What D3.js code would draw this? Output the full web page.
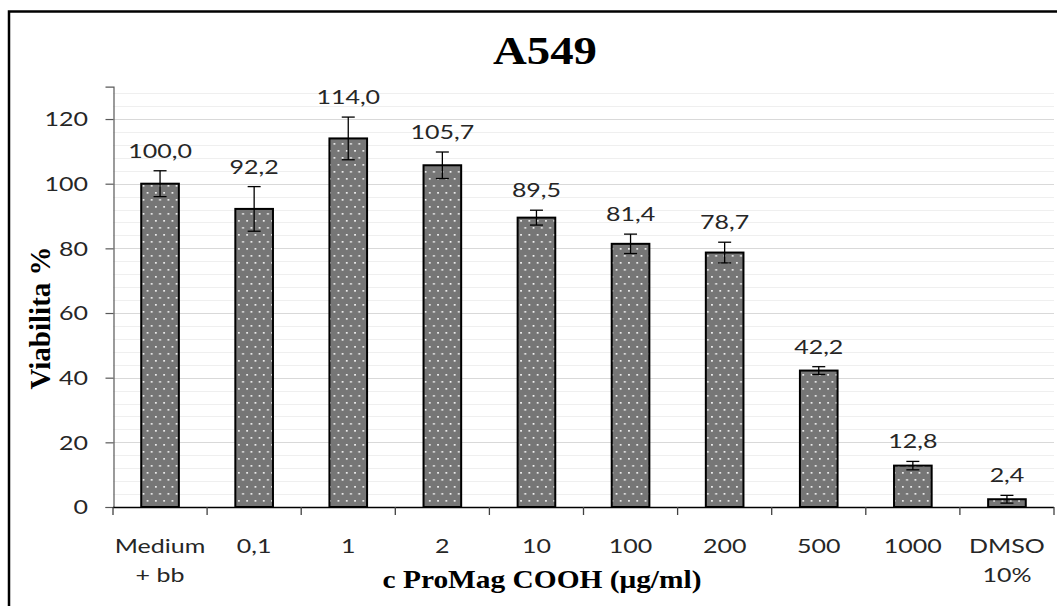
<!DOCTYPE html>
<meta charset="UTF-8">
<style>
body { margin: 0; background: #fff; }
.grid-major { stroke: #d9d9d9; stroke-width: 1px; }
.grid-minor { stroke: #efefef; stroke-width: 1px; }
.bar { fill: url(#dots); stroke: #000; stroke-width: 2px; }
.err { stroke: #000; stroke-width: 1.3px; fill: none; }
.sans { font-family: Lato, "Open Sans", sans-serif; fill: #262626; }
.serif { font-family: "Liberation Serif", "Times New Roman", serif; font-weight: bold; fill: #000; }
</style>
<svg width="1057" height="606"></svg>
<script src="https://d3js.org/d3.v7.min.js"></script>
<script>
// chart values
var categories = ["Medium\n+ bb", "0,1", "1", "2", "10", "100", "200", "500", "1000", "DMSO\n10%"]
var viability = [100.0, 92.2, 114.0, 105.7, 89.5, 81.4, 78.7, 42.2, 12.8, 2.4]
var errors = [4.0, 6.9, 6.6, 4.1, 2.3, 3.0, 3.2, 1.2, 1.3, 1.2]
var yTicks = [0, 20, 40, 60, 80, 100, 120]
var minorStep = 4
var yMax = 130

var title = "A549"
var xTitle = "c ProMag COOH (\u03bcg/ml)"
var yTitle = "Viabilita %"

// the source picture is stretched sideways, text follows it
var sx = 1.25

var svg = d3.select("svg")

var defs = svg.append("defs")
var pat = defs.append("pattern")
    .attr("id", "dots")
    .attr("patternUnits", "userSpaceOnUse")
    .attr("width", 8.3)
    .attr("height", 14)
pat.append("rect").attr("width", 8.3).attr("height", 14).attr("fill", "#767676")
pat.append("rect").attr("x", 1.5).attr("y", 3).attr("width", 1.7).attr("height", 1.7).attr("fill", "#f4f4f4")
pat.append("rect").attr("x", 5.6).attr("y", 10).attr("width", 1.7).attr("height", 1.7).attr("fill", "#f4f4f4")

var data = categories.map((c, i) => ({cat: c, v: viability[i], e: errors[i]}))

var x = d3.scaleBand()
    .domain(categories)
    .range([113, 1054])
    .paddingInner(0.6)
    .paddingOuter(0.3)

var y = d3.scaleLinear()
    .domain([0, yMax])
    .range([507, 86.7])

function stretch(sel, px, py) {
    return sel.attr("transform", "translate(" + px + "," + py + ") scale(" + sx + ",1)")
}

// outer border
svg.append("rect")
    .attr("x", 9).attr("y", 11.5)
    .attr("width", 1200).attr("height", 700)
    .attr("fill", "none").attr("stroke", "#000").attr("stroke-width", 2.5)

// gridlines
var minors = d3.range(minorStep, yMax, minorStep).filter(v => v % 20 != 0)
svg.append("g").selectAll("line")
    .data(minors).enter().append("line")
    .attr("class", "grid-minor")
    .attr("x1", 113).attr("x2", 1054)
    .attr("y1", d => Math.round(y(d)) + 0.5).attr("y2", d => Math.round(y(d)) + 0.5)
svg.append("g").selectAll("line")
    .data(yTicks.filter(d => d > 0)).enter().append("line")
    .attr("class", "grid-major")
    .attr("x1", 113).attr("x2", 1054)
    .attr("y1", d => Math.round(y(d)) + 0.5).attr("y2", d => Math.round(y(d)) + 0.5)

// y axis
var yAxis = svg.append("g")
    .attr("transform", "translate(113.5,0)")
    .call(d3.axisLeft(y).tickValues(yTicks).tickSize(8).tickFormat(""))
yAxis.select(".domain").attr("stroke", "#595959").attr("stroke-width", 1.2)
yAxis.selectAll(".tick line").attr("stroke", "#595959").attr("stroke-width", 1.2)

svg.append("g").selectAll("text")
    .data(yTicks).enter().append("text")
    .attr("class", "sans")
    .style("font-size", "20px")
    .attr("text-anchor", "end")
    .attr("dy", "0.36em")
    .each(function(d) { stretch(d3.select(this), 88, y(d)) })
    .text(d => d)

// bars
svg.append("g").selectAll("rect")
    .data(data).enter().append("rect")
    .attr("class", "bar")
    .attr("x", d => x(d.cat))
    .attr("width", x.bandwidth())
    .attr("y", d => y(d.v))
    .attr("height", d => y(0) - y(d.v))

// x axis
svg.append("line")
    .attr("x1", 113).attr("x2", 1054)
    .attr("y1", 507.5).attr("y2", 507.5)
    .attr("stroke", "#000").attr("stroke-width", 1.5)
var bounds = categories.map(c => x(c) - x.step() * x.paddingOuter()).concat([1054])
svg.append("g").selectAll("line")
    .data(bounds).enter().append("line")
    .attr("x1", d => d).attr("x2", d => d)
    .attr("y1", 507).attr("y2", 515)
    .attr("stroke", "#404040").attr("stroke-width", 1.3)

// error bars
var eb = svg.append("g").selectAll("g")
    .data(data).enter().append("g")
    .attr("class", "err")
eb.append("line")
    .attr("x1", d => x(d.cat) + x.bandwidth() / 2).attr("x2", d => x(d.cat) + x.bandwidth() / 2)
    .attr("y1", d => y(d.v + d.e)).attr("y2", d => y(d.v - d.e))
eb.append("line")
    .attr("x1", d => x(d.cat) + x.bandwidth() / 2 - 6.5).attr("x2", d => x(d.cat) + x.bandwidth() / 2 + 6.5)
    .attr("y1", d => y(d.v + d.e)).attr("y2", d => y(d.v + d.e))
eb.append("line")
    .attr("x1", d => x(d.cat) + x.bandwidth() / 2 - 6.5).attr("x2", d => x(d.cat) + x.bandwidth() / 2 + 6.5)
    .attr("y1", d => y(d.v - d.e)).attr("y2", d => y(d.v - d.e))

// value labels
var fmt = d3.format(".1f")
svg.append("g").selectAll("text")
    .data(data).enter().append("text")
    .attr("class", "sans")
    .style("font-size", "20px")
    .attr("text-anchor", "middle")
    .each(function(d) { stretch(d3.select(this), x(d.cat) + x.bandwidth() / 2, y(d.v + d.e) - 13) })
    .text(d => fmt(d.v).replace(".", ","))

// category labels
var cl = svg.append("g").selectAll("text")
    .data(categories).enter().append("text")
    .attr("class", "sans")
    .style("font-size", "20px")
    .attr("text-anchor", "middle")
    .each(function(d) { stretch(d3.select(this), x(d) + x.bandwidth() / 2, 553) })
cl.selectAll("tspan")
    .data(d => d.split("\n")).enter().append("tspan")
    .attr("x", 0)
    .attr("y", (d, i) => i * 29)
    .text(d => d)

// titles
svg.append("text")
    .attr("class", "serif")
    .style("font-size", "39px")
    .attr("text-anchor", "middle")
    .attr("transform", "translate(545,64) scale(1.2,1)")
    .text(title)

svg.append("text")
    .attr("class", "serif")
    .style("font-size", "24.5px")
    .attr("text-anchor", "middle")
    .attr("transform", "translate(542,588) scale(1.2,1)")
    .text(xTitle)

svg.append("text")
    .attr("class", "serif")
    .style("font-size", "29px")
    .attr("text-anchor", "middle")
    .attr("transform", "translate(50,318) rotate(-90)")
    .text(yTitle)
</script>
